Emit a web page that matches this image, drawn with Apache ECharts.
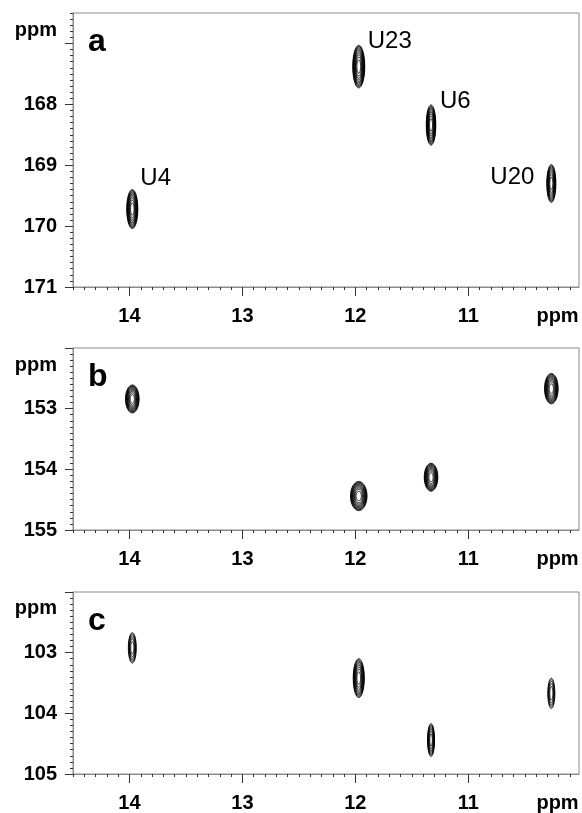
<!DOCTYPE html>
<html>
<head>
<meta charset="utf-8">
<script src="https://cdn.jsdelivr.net/npm/echarts@6/dist/echarts.min.js"></script>
<style>
html,body{margin:0;padding:0;background:#fff;}
#chart{width:582px;height:813px;}
</style>
</head>
<body>
<div id="chart"></div>
<script>
// ---------------- data ----------------
const peakNames = ['U4', 'U23', 'U6', 'U20'];
const protonShift = [13.975, 11.97, 11.33, 10.265];          // 1H (ppm), shared x
const panelLetters = ['a', 'b', 'c'];

const shiftA = [169.72, 167.38, 168.34, 169.30];              // panel a, ppm
const shiftB = [152.84, 154.44, 154.13, 152.67];              // panel b, ppm
const shiftC = [102.92, 103.42, 104.44, 103.67];              // panel c, ppm

// peak half-widths (ppm) and contour level counts
const halfWidthH_A = [0.049, 0.053, 0.042, 0.040];
const halfWidthV_A = [0.32, 0.35, 0.33, 0.31];
const levels_A = [10, 10, 10, 9];
const halfWidthH_B = [0.060, 0.073, 0.060, 0.060];
const halfWidthV_B = [0.23, 0.24, 0.23, 0.25];
const levels_B = [10, 10, 10, 10];
const halfWidthH_C = [0.035, 0.049, 0.031, 0.031];
const halfWidthV_C = [0.25, 0.32, 0.27, 0.25];
const levels_C = [6, 9, 7, 5];

// axes
const xRange = [10.02, 14.5];
const xTickLabels = [14, 13, 12, 11];
const xUnitAt = 10.21;
const yRanges = [[166.5, 171], [152, 155], [102, 105]];
const yMajorTicks = [[167, 168, 169, 170, 171], [152, 153, 154, 155], [102, 103, 104, 105]];
const yTickLabels = [[168, 169, 170, 171], [153, 154, 155], [103, 104, 105]];
const yUnitAt = [166.78, 152.28, 102.27];

// ---------------- layout / style ----------------
const grids = [
  {left: 73, top: 13, width: 506, height: 274},
  {left: 73, top: 348, width: 506, height: 182},
  {left: 73, top: 592, width: 506, height: 182}
];
const FONT = '"Liberation Sans", Arial, Helvetica, sans-serif';
const lineColor = '#8a8a8a';
const tickColor = '#333';
const labelOffsets = { // px offsets of peak labels from peak centre (panel a only)
  U4: {dx: 8, dy: -31, align: 'left'},
  U23: {dx: 9, dy: -25, align: 'left'},
  U6: {dx: 9, dy: -24, align: 'left'},
  U20: {dx: -17, dy: -6, align: 'right'}
};

function steps(a, b) { // 0.1 ppm minor tick positions
  const out = [];
  for (let k = Math.ceil(a * 10 - 1e-6); k <= Math.floor(b * 10 + 1e-6); k++) out.push(Math.round(k) / 10);
  return out;
}

const panelShifts = [shiftA, shiftB, shiftC];
const panelHW = [halfWidthH_A, halfWidthH_B, halfWidthH_C];
const panelHV = [halfWidthV_A, halfWidthV_B, halfWidthV_C];
const panelLv = [levels_A, levels_B, levels_C];

const xAxes = [], yAxes = [], series = [], graphics = [];

grids.forEach(function (g, i) {
  // major x axis
  xAxes.push({
    type: 'value', gridIndex: i, position: 'bottom', inverse: true,
    min: xRange[0], max: xRange[1],
    axisLine: {show: true, onZero: false, lineStyle: {color: lineColor, width: 1}},
    axisTick: {show: true, inside: false, length: 9, customValues: xTickLabels, lineStyle: {color: tickColor, width: 1}},
    axisLabel: {
      show: true, margin: 19, customValues: xTickLabels.concat([xUnitAt]),
      fontFamily: FONT, fontWeight: 'bold', fontSize: 20, color: '#000',
      formatter: function (v) { return Math.abs(v - xUnitAt) < 1e-6 ? 'ppm' : String(v); }
    },
    splitLine: {show: false}
  });
  // minor x axis
  xAxes.push({
    type: 'value', gridIndex: i, position: 'bottom', inverse: true,
    min: xRange[0], max: xRange[1],
    axisLine: {show: false, onZero: false},
    axisTick: {show: true, inside: false, length: 3, customValues: steps(xRange[0], xRange[1]), lineStyle: {color: tickColor, width: 1}},
    axisLabel: {show: false},
    splitLine: {show: false}
  });
  // major y axis
  const yr = yRanges[i];
  yAxes.push({
    type: 'value', gridIndex: i, position: 'left', inverse: true,
    min: yr[0], max: yr[1],
    axisLine: {show: true, onZero: false, lineStyle: {color: lineColor, width: 1}},
    axisTick: {show: true, inside: false, length: 8, customValues: yMajorTicks[i], lineStyle: {color: tickColor, width: 1}},
    axisLabel: {
      show: true, margin: 16, customValues: yTickLabels[i].concat([yUnitAt[i]]),
      fontFamily: FONT, fontWeight: 'bold', fontSize: 20, color: '#000',
      formatter: (function (u) { return function (v) { return Math.abs(v - u) < 1e-6 ? 'ppm' : String(v); }; })(yUnitAt[i])
    },
    splitLine: {show: false}
  });
  // minor y axis
  yAxes.push({
    type: 'value', gridIndex: i, position: 'left', inverse: true,
    min: yr[0], max: yr[1],
    axisLine: {show: false, onZero: false},
    axisTick: {show: true, inside: false, length: 3, customValues: steps(yr[0], yr[1]), lineStyle: {color: tickColor, width: 1}},
    axisLabel: {show: false},
    splitLine: {show: false}
  });

  const data = peakNames.map(function (n, k) {
    return [protonShift[k], panelShifts[i][k], panelHW[i][k], panelHV[i][k], panelLv[i][k], k];
  });

  series.push({
    type: 'custom', coordinateSystem: 'cartesian2d',
    xAxisIndex: i * 2, yAxisIndex: i * 2, silent: true, clip: false,
    data: data,
    renderItem: (function (panel) {
      return function (params, api) {
        const c = api.coord([api.value(0), api.value(1)]);
        const s = api.size([api.value(2), api.value(3)]);
        const nLv = api.value(4);
        const rx = s[0], ry = s[1];
        const children = [];
        for (let k = 0; k < nLv; k++) {
          const f = Math.sqrt(1 - k / nLv);
          const pts = [];
          for (let t = 0; t < 48; t++) {
            const a = t / 48 * Math.PI * 2;
            pts.push([c[0] + rx * f * Math.cos(a), c[1] + ry * f * Math.sin(a)]);
          }
          children.push({type: 'polygon', shape: {points: pts},
            style: {fill: 'none', stroke: '#000', lineWidth: 0.9}});
        }
        if (panel === 0) {
          const name = peakNames[api.value(5)];
          const o = labelOffsets[name];
          children.push({type: 'text', x: c[0] + o.dx, y: c[1] + o.dy,
            style: {text: name, font: '24px ' + FONT, fill: '#000', align: o.align, verticalAlign: 'middle'}});
        }
        return {type: 'group', children: children};
      };
    })(i)
  });

  graphics.push({
    type: 'text', x: g.left + 15, y: g.top + 29,
    style: {text: panelLetters[i], font: 'bold 32px ' + FONT, fill: '#000', verticalAlign: 'middle'}
  });
});

const chart = echarts.init(document.getElementById('chart'), null, {renderer: 'canvas'});
chart.setOption({
  animation: false,
  backgroundColor: '#fff',
  grid: grids.map(function (g) {
    return Object.assign({show: true, borderColor: lineColor, borderWidth: 1, backgroundColor: 'transparent', containLabel: false}, g);
  }),
  xAxis: xAxes,
  yAxis: yAxes,
  series: series,
  graphic: graphics
});
</script>
</body>
</html>
